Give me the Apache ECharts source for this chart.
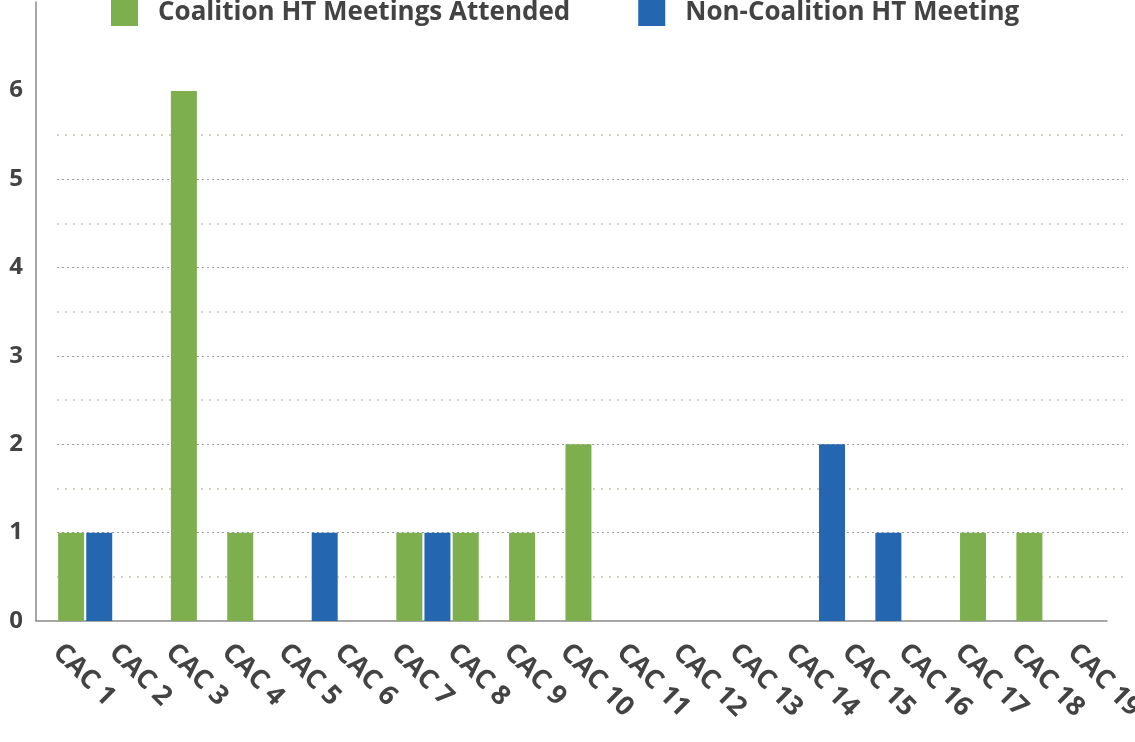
<!DOCTYPE html>
<html>
<head>
<meta charset="utf-8">
<script src="https://cdn.jsdelivr.net/npm/echarts@6/dist/echarts.min.js"></script>
<style>
  html, body { margin: 0; padding: 0; background: #fff; }
  #chart { width: 1135px; height: 742px; }
</style>
</head>
<body>
<div id="chart"></div>
<script>
// categories and values
var categories = ['CAC 1', 'CAC 2', 'CAC 3', 'CAC 4', 'CAC 5', 'CAC 6', 'CAC 7', 'CAC 8', 'CAC 9', 'CAC 10',
                  'CAC 11', 'CAC 12', 'CAC 13', 'CAC 14', 'CAC 15', 'CAC 16', 'CAC 17', 'CAC 18', 'CAC 19'];
var coalition    = [1, 0, 6, 1, 0, 0, 1, 1, 1, 2, 0, 0, 0, 0, 0, 0, 1, 1, 0];
var nonCoalition = [1, 0, 0, 0, 1, 0, 1, 0, 0, 0, 0, 0, 0, 2, 1, 0, 0, 0, 0];
var seriesNames  = ['Coalition HT Meetings Attended', 'Non-Coalition HT Meeting'];

var font = 'Open Sans';
var textColor = '#434343';
var axisColor = '#8a8a8a';

var myChart = echarts.init(document.getElementById('chart'));

var option = {
    animation: false,
    color: ['#7daf4e', '#2467b0'],
    legend: {
        data: seriesNames,
        left: 111,
        top: -1,
        padding: 0,
        itemWidth: 27,
        itemHeight: 27,
        itemGap: 68,
        icon: 'rect',
        textStyle: { fontFamily: font, fontWeight: 'bold', fontSize: 26, color: textColor, padding: [0, 0, 0, 15] }
    },
    grid: [
        // bars + grid lines
        { left: 57, right: 7, top: 91, bottom: 121, outerBoundsMode: 'none' },
        // category labels
        { left: 29, right: 35, top: 2, bottom: 121, outerBoundsMode: 'none' },
        // axis lines and value labels
        { left: 36, right: 28, top: 2, bottom: 121, outerBoundsMode: 'none' }
    ],
    xAxis: [
        {
            type: 'category', gridIndex: 0, data: categories,
            axisLine: { show: false }, axisTick: { show: false }, axisLabel: { show: false }
        },
        {
            type: 'category', gridIndex: 1, data: categories,
            axisLine: { show: false },
            axisTick: { show: false },
            axisLabel: {
                rotate: -45, interval: 0, margin: 27,
                fontFamily: font, fontWeight: 'bold', fontSize: 27, color: textColor
            }
        },
        {
            type: 'category', gridIndex: 2, data: categories,
            axisLine: { lineStyle: { color: axisColor, width: 1.5 } },
            axisTick: { show: false }, axisLabel: { show: false }
        }
    ],
    yAxis: [
        {
            type: 'value', gridIndex: 0, min: 0, max: 6, interval: 1,
            axisLine: { show: false }, axisTick: { show: false }, axisLabel: { show: false },
            splitLine: {
                lineStyle: {
                    color: ['rgba(0,0,0,0)', '#9a9a9a', '#9a9a9a', '#9a9a9a', '#9a9a9a', '#9a9a9a', 'rgba(0,0,0,0)'],
                    type: [2, 3], width: 1
                }
            },
            minorTick: { show: false, splitNumber: 2 },
            minorSplitLine: { show: true, lineStyle: { color: '#d8d1c5', type: [2, 6], width: 2 } }
        },
        {
            type: 'value', gridIndex: 1, min: 0, max: 7, show: false
        },
        {
            type: 'value', gridIndex: 2, min: 0, max: 7, interval: 1,
            axisLine: { show: true, lineStyle: { color: axisColor, width: 1.5 } },
            axisTick: { show: false },
            splitLine: { show: false },
            axisLabel: {
                showMaxLabel: false, margin: 13,
                fontFamily: font, fontWeight: 'bold', fontSize: 24, color: textColor
            }
        }
    ],
    series: [
        {
            name: seriesNames[0], type: 'bar', xAxisIndex: 0, yAxisIndex: 0,
            barWidth: 26, barGap: '8%',
            data: coalition
        },
        {
            name: seriesNames[1], type: 'bar', xAxisIndex: 0, yAxisIndex: 0,
            barWidth: 26, barGap: '8%',
            data: nonCoalition
        }
    ]
};

myChart.setOption(option);
</script>
</body>
</html>
